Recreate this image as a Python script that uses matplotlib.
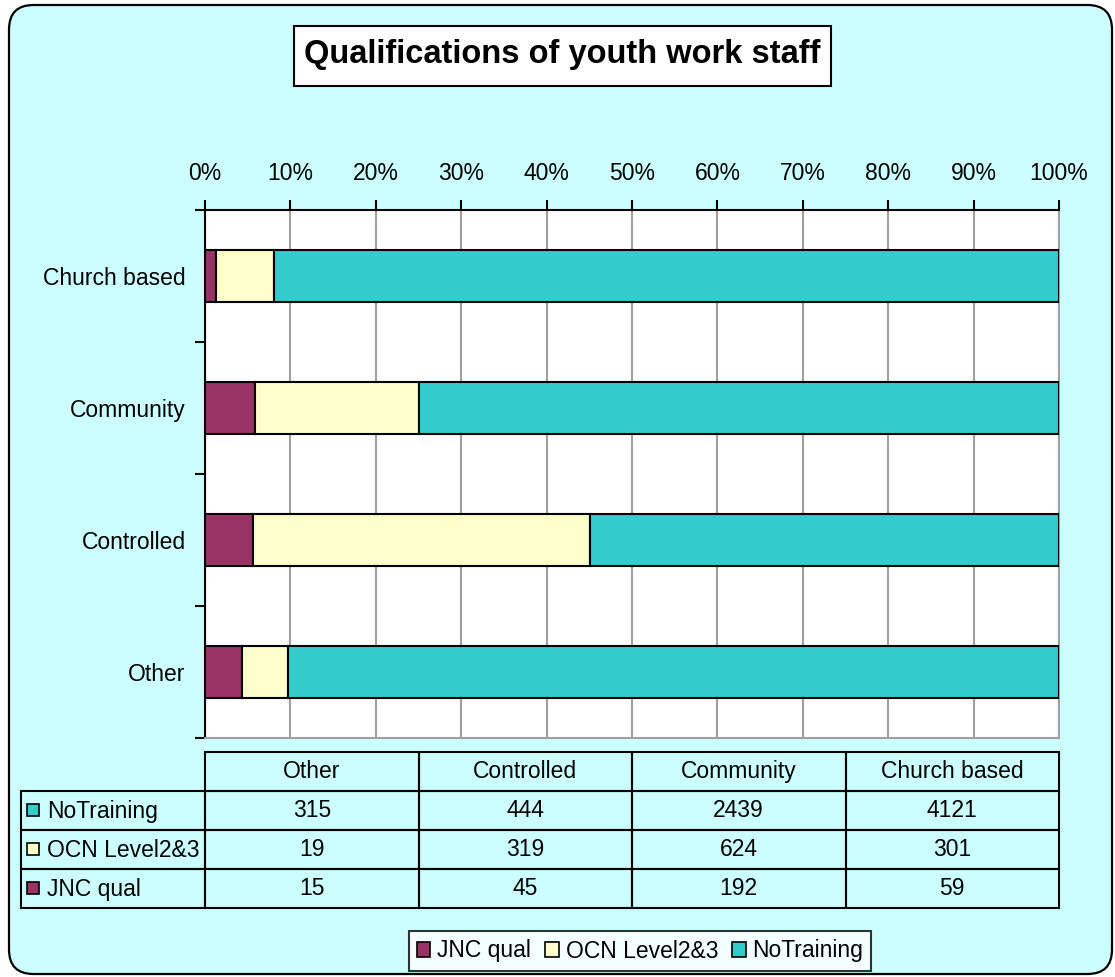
import matplotlib
matplotlib.use("Agg")
import matplotlib.pyplot as plt
from matplotlib.patches import FancyBboxPatch, Rectangle
from matplotlib.ticker import FuncFormatter
import numpy as np

plt.rcParams['font.family'] = ['Liberation Sans', 'DejaVu Sans']

categories = ["Other", "Controlled", "Community", "Church based"]
series_names = ["JNC qual", "OCN Level2&3", "NoTraining"]
jnc_qual = [15, 45, 192, 59]
ocn_level = [19, 319, 624, 301]
no_training = [315, 444, 2439, 4121]
colors = ["#993366", "#FFFFCC", "#33CCCC"]
title = "Qualifications of youth work staff"

W, H = 1115, 977
fig = plt.figure(figsize=(W / 100, H / 100), dpi=100, facecolor="white")

def fx(px):
    return px / W

def fy(py):
    return 1 - py / H

# rounded background
bg = FancyBboxPatch((fx(9), fy(974)), fx(1103), 969 / H,
                    boxstyle="round,pad=0,rounding_size=0.022",
                    transform=fig.transFigure, facecolor="#CCFFFF",
                    edgecolor="black", linewidth=1.6, mutation_aspect=W / H,
                    zorder=-10)
fig.patches.append(bg)

# main axes
L, R, T, B = 205, 1059, 210, 738
ax = fig.add_axes([fx(L), fy(B), fx(R - L), (B - T) / H])
ax.set_facecolor("white")

vals = np.array([jnc_qual, ocn_level, no_training], dtype=float)
pct = vals / vals.sum(axis=0)
y = np.arange(len(categories))
left = np.zeros(len(categories))
handles = []
for i, name in enumerate(series_names):
    h = ax.barh(y, pct[i], left=left, height=0.4, color=colors[i],
                edgecolor="black", linewidth=1.5, label=name, zorder=3)
    handles.append(h)
    left += pct[i]

FS = 16.5
ax.set_xlim(0, 1)
ax.set_ylim(-0.5, len(categories) - 0.5)
ax.xaxis.tick_top()
ax.set_xticks(np.arange(0, 1.01, 0.1))
ax.xaxis.set_major_formatter(FuncFormatter(lambda v, p: f"{int(round(v * 100))}%"))
ax.tick_params(axis="x", direction="out", length=7, width=1.5, labelsize=FS, pad=11)
ax.grid(axis="x", color="#A0A0A0", linewidth=1.5, zorder=0)
ax.set_yticks(y)
ax.set_yticklabels(categories)
ax.tick_params(axis="y", length=0, labelsize=FS, pad=14)
ax.set_yticks(np.arange(-0.5, len(categories), 1.0), minor=True)
ax.tick_params(axis="y", which="minor", direction="out", length=7, width=1.5)
for s in ["left", "top"]:
    ax.spines[s].set_color("black")
    ax.spines[s].set_linewidth(1.5)
for s in ["right", "bottom"]:
    ax.spines[s].set_color("#A0A0A0")
    ax.spines[s].set_linewidth(1.5)

# title
fig.patches.append(Rectangle((fx(294), fy(86)), fx(831 - 294), 60 / H,
                             transform=fig.transFigure, facecolor="white",
                             edgecolor="black", linewidth=1.5, zorder=1))
fig.text(fx(562.5), fy(55), title, ha="center", va="center", fontsize=23.5,
         fontweight="bold", zorder=2)

# data table
TT, TB = 752, 908
tax = fig.add_axes([fx(L), fy(TB), fx(R - L), (TB - TT) / H])
tax.set_xlim(0, len(categories))
tax.set_ylim(0, 4)
tax.axis("off")
colw = (R - L) / len(categories)
label_w = (L - 21) / colw
rows = [("NoTraining", no_training, colors[2]),
        ("OCN Level2&3", ocn_level, colors[1]),
        ("JNC qual", jnc_qual, colors[0])]
kw = dict(facecolor="none", edgecolor="black", linewidth=1.5, clip_on=False)
# header
for j, c in enumerate(categories):
    tax.add_patch(Rectangle((j, 3), 1, 1, **kw))
    tax.text(j + 0.5, 3.5, c, ha="center", va="center", fontsize=FS)
for r, (name, data, col) in enumerate(rows):
    yy = 2 - r
    tax.add_patch(Rectangle((-label_w, yy), label_w, 1, **kw))
    sq_w = 12 / colw
    tax.add_patch(Rectangle((-label_w + 6 / colw, yy + 0.35), sq_w, 0.31,
                            facecolor=col, edgecolor="black", linewidth=1.2,
                            clip_on=False))
    tax.text(-label_w + 26 / colw, yy + 0.47, name, ha="left", va="center",
             fontsize=FS)
    for j, v in enumerate(data):
        tax.add_patch(Rectangle((j, yy), 1, 1, **kw))
        tax.text(j + 0.5, yy + 0.5, str(v), ha="center", va="center", fontsize=FS)

# legend
leg = fig.legend(handles=handles, labels=series_names, loc="center",
                 bbox_to_anchor=(fx(640), fy(951)), ncol=3, fontsize=FS,
                 frameon=True, fancybox=False, edgecolor="black",
                 handlelength=0.6, handleheight=0.6, handletextpad=0.3,
                 columnspacing=0.6, borderpad=0.35)
leg.get_frame().set_linewidth(1.5)
for p in leg.get_patches():
    p.set_linewidth(1.2)

fig.savefig("out.png", dpi=100, facecolor="white")
